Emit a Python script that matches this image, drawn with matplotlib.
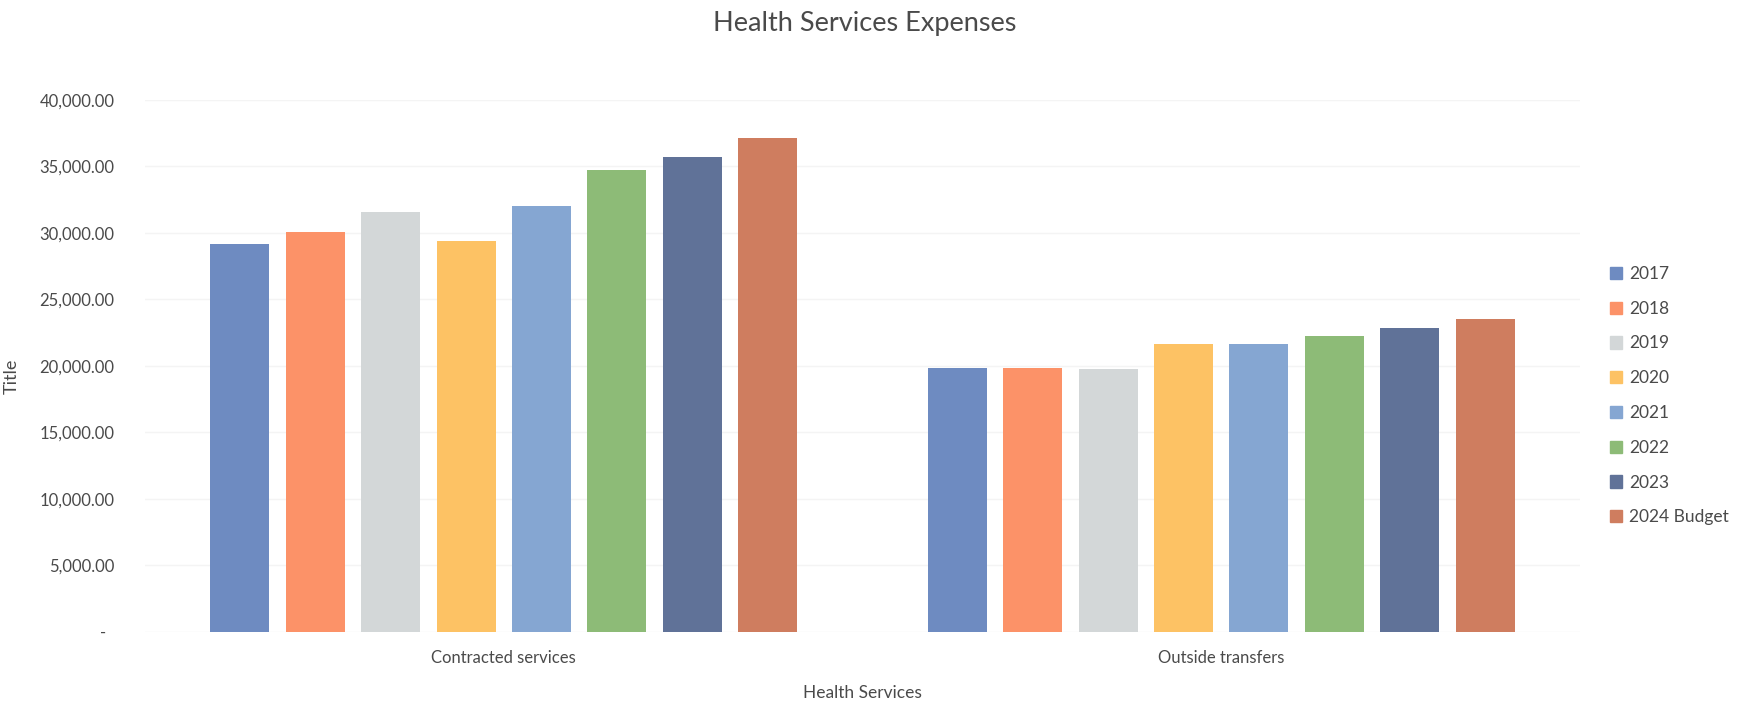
import numpy as np
import matplotlib.pyplot as plt
from matplotlib.patches import Patch

plt.rcParams['font.family'] = ['Lato', 'DejaVu Sans']

# 데이터
categories = ['Contracted services', 'Outside transfers']
years = ['2017', '2018', '2019', '2020', '2021', '2022', '2023', '2024 Budget']
contracted = [29170, 30050, 31600, 29420, 32050, 34720, 35700, 37170]
outside = [19820, 19820, 19740, 21650, 21650, 22250, 22850, 23510]
yticks = [0, 5000, 10000, 15000, 20000, 25000, 30000, 35000, 40000]

colors = ['#6E8BC1', '#FC9268', '#D3D7D8', '#FDC264', '#85A6D2',
          '#8DBB77', '#607298', '#CF7D5F']
text_color = '#4a4a4a'

fig = plt.figure(figsize=(17.5, 7.06), dpi=100)
ax = fig.add_axes([145 / 1750, 1 - 631.7 / 706, 1435 / 1750, 531.7 / 706])

x = np.arange(len(categories))
width = 0.0822
step = 0.1051
for i, year in enumerate(years):
    vals = [contracted[i], outside[i]]
    ax.bar(x + (i - 3.5) * step, vals, width, color=colors[i], label=year, zorder=2)

ax.set_xlim(-0.5, 1.5)
ax.set_ylim(0, 40000)
ax.set_yticks(yticks)
ax.set_yticklabels(['-  ' if v == 0 else f'{v:,.2f}' for v in yticks])
ax.set_xticks(x)
ax.set_xticklabels(categories)
ax.tick_params(axis='both', length=0, labelsize=12, colors=text_color)
ax.tick_params(axis='x', pad=13)
ax.tick_params(axis='y', pad=22)

ax.yaxis.grid(True, color='#f4f4f4', linewidth=1, zorder=0)
for s in ax.spines.values():
    s.set_visible(False)

ax.set_xlabel('Health Services', fontsize=12.5, color=text_color, labelpad=14)
ax.set_ylabel('Title', fontsize=13, color=text_color)
ax.yaxis.set_label_coords(-0.0871, 0.48)

fig.text(865 / 1750, 1 - 24 / 706, 'Health Services Expenses', ha='center', va='center',
         fontsize=19.5, color=text_color)

handles = [Patch(color=c) for c in colors]
fig.legend(handles, years, loc='upper left', bbox_to_anchor=(1610 / 1750, 1 - 266 / 706),
           frameon=False, fontsize=12.5, labelcolor=text_color, handlelength=0.7,
           handleheight=0.7, handletextpad=0.4, labelspacing=1.08, borderpad=0,
           borderaxespad=0)

fig.savefig('out.png', dpi=100, facecolor='white')
